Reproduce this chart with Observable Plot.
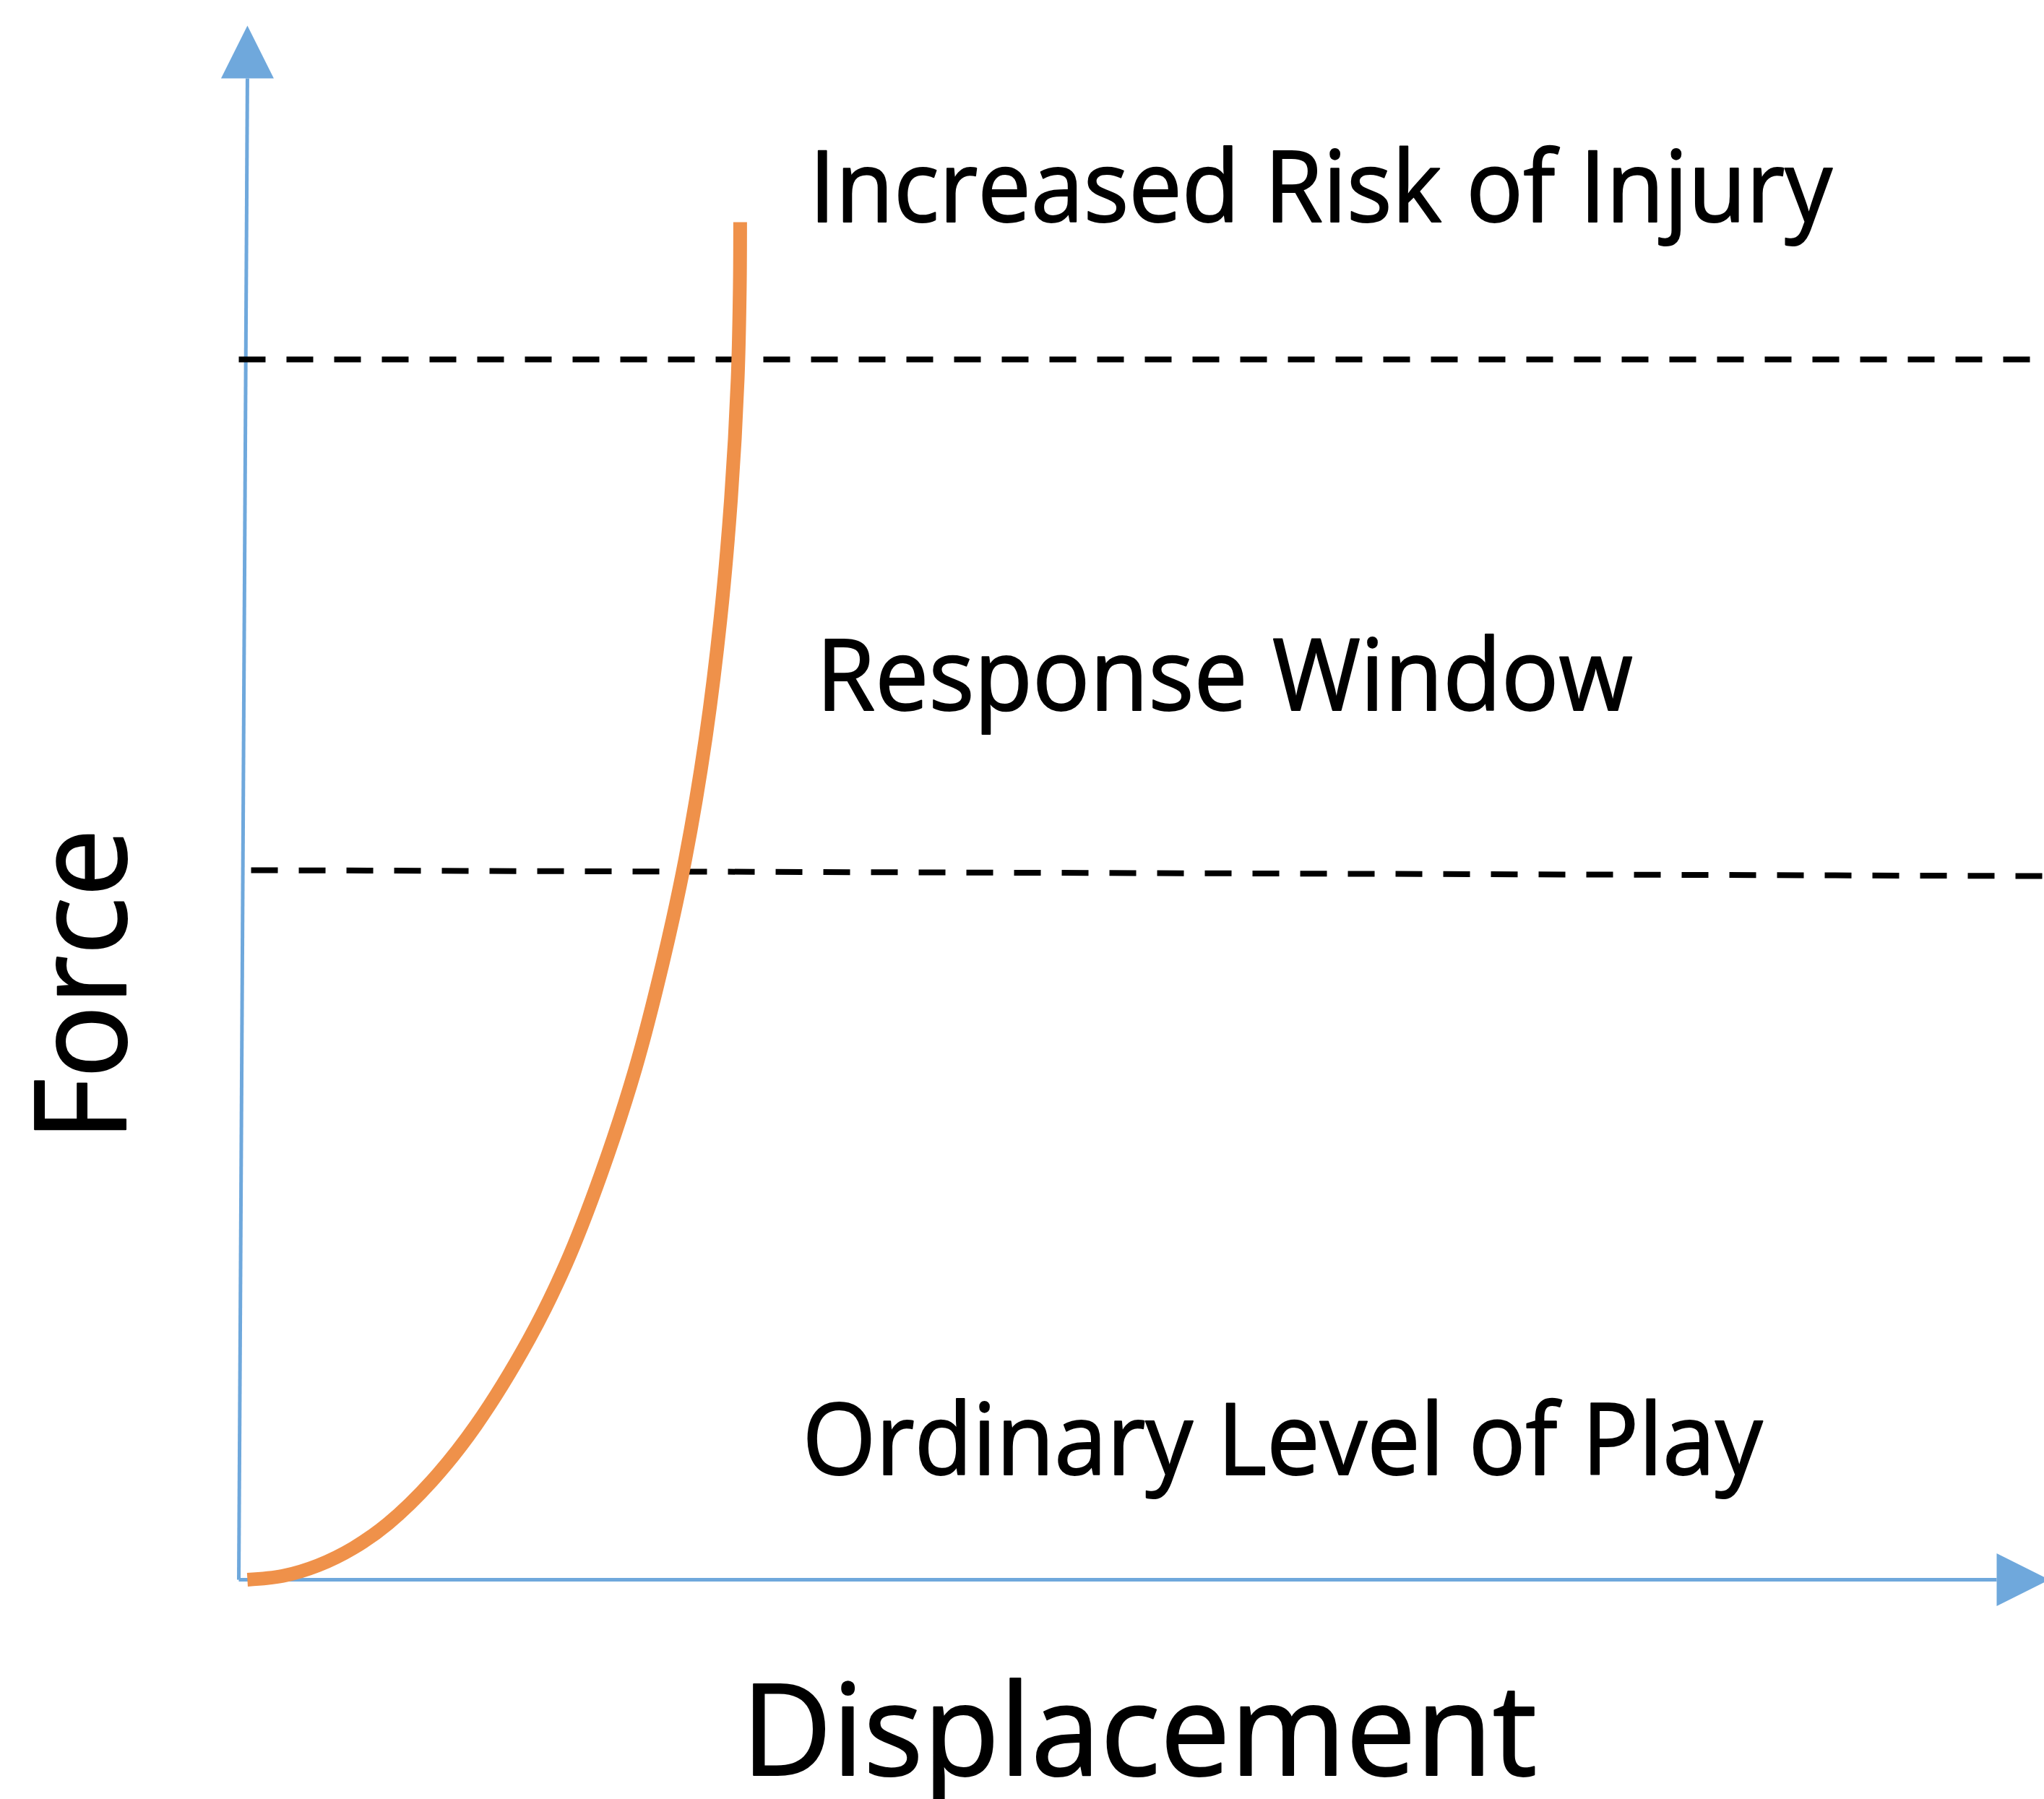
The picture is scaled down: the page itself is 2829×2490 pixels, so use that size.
<!DOCTYPE html>
<html>
<head>
<meta charset="utf-8">
<script src="https://cdn.jsdelivr.net/npm/d3@7"></script>
<script src="https://cdn.jsdelivr.net/npm/@observablehq/plot@0.6"></script>
<style>
  html, body { margin: 0; padding: 0; background: #fff; }
  #chart svg { display: block; }
</style>
</head>
<body>
<div id="chart"></div>
<script>
// ---- data (chart units: displacement 0..100, force 0..100) ----
const curveDisplacement = [0.49, 2.5, 4.5, 6.5, 8.5, 11, 13.5, 16.5, 18.6, 20.6, 22.55, 24.1, 25.4, 26.55, 27.4, 28.0, 28.38, 28.5, 28.52];
const curveForce        = [0,    0.25, 0.95, 2.1, 3.75, 6.6, 10.3, 16, 21,   27,   34,    41,   48,   56,    64,   72,   80,    86,   90.42];

const upperThresholdX = [0, 102.7];
const upperThresholdY = [81.28, 81.28];
const lowerThresholdX = [0.7, 102.7];
const lowerThresholdY = [47.26, 46.87];

const xAxisX = [0, 100];
const xAxisY = [0, 0];
const yAxisX = [0, 0.49];
const yAxisY = [0, 100];

const zoneLabels = ["Increased Risk of Injury", "Response Window", "Ordinary Level of Play"];
const zoneLabelX = [32.45, 32.85, 32.06];
const zoneLabelY = [90.45, 57.9, 7.0];

const xTitle = "Displacement";
const xTitlePos = [28.6, -13.04];
const yTitle = "Force";
const yTitlePos = [-6.45, 29.2];

// ---- build tables ----
const curve = curveDisplacement.map((d, i) => ({x: d, y: curveForce[i]}));
const upper = upperThresholdX.map((d, i) => ({x: d, y: upperThresholdY[i]}));
const lower = lowerThresholdX.map((d, i) => ({x: d, y: lowerThresholdY[i]}));
const xAxis = xAxisX.map((d, i) => ({x: d, y: xAxisY[i]}));
const yAxis = yAxisX.map((d, i) => ({x: d, y: yAxisY[i]}));
const zones = zoneLabels.map((t, i) => ({text: t, x: zoneLabelX[i], y: zoneLabelY[i]}));
const arrows = [
  {x: yAxisX[1], y: yAxisY[1], rotate: 0},
  {x: xAxisX[1], y: xAxisY[1], rotate: 90}
];

// ---- styles ----
const BLUE = "#6FA8DC";
const ORANGE = "#EF914A";
const FONT = "'Open Sans', 'Noto Sans', sans-serif";

const arrowHead = {
  draw(context, size) {
    const s = Math.sqrt(size / Math.PI);
    context.moveTo(-s / 2, 0);
    context.lineTo(0, -s);
    context.lineTo(s / 2, 0);
    context.closePath();
  }
};

const textStyle = {fill: "#000", stroke: "#000", strokeWidth: 2, fontFamily: FONT, textAnchor: "start", lineAnchor: "bottom"};

const chart = Plot.plot({
  width: 2829,
  height: 2490,
  margin: 0,
  style: {background: "#fff", overflow: "visible"},
  x: {domain: [0, 100], range: [330, 2763], axis: null},
  y: {domain: [0, 100], range: [2186, 108], axis: null},
  marks: [
    Plot.line(xAxis, {x: "x", y: "y", stroke: BLUE, strokeWidth: 5, strokeLinecap: "butt", strokeLinejoin: "round"}),
    Plot.line(yAxis, {x: "x", y: "y", stroke: BLUE, strokeWidth: 5, strokeLinecap: "butt", strokeLinejoin: "round"}),
    Plot.dot(arrows, {x: "x", y: "y", rotate: "rotate", symbol: arrowHead, r: 73, fill: BLUE, stroke: "none"}),
    Plot.line(upper, {x: "x", y: "y", stroke: "#000", strokeWidth: 8, strokeDasharray: "37,29", strokeLinecap: "butt"}),
    Plot.line(lower, {x: "x", y: "y", stroke: "#000", strokeWidth: 8, strokeDasharray: "37,29", strokeLinecap: "butt"}),
    Plot.line(curve, {x: "x", y: "y", curve: "catmull-rom", stroke: ORANGE, strokeWidth: 19, strokeLinecap: "butt"}),
    Plot.text(zones, {x: "x", y: "y", text: "text", fontSize: 137, ...textStyle}),
    Plot.text([xTitle], {x: () => xTitlePos[0], y: () => xTitlePos[1], text: d => d, fontSize: 176, ...textStyle}),
    Plot.text([yTitle], {x: () => yTitlePos[0], y: () => yTitlePos[1], text: d => d, rotate: -90, fontSize: 176, ...textStyle})
  ]
});

// fit text widths to the reference
const widths = {
  "Increased Risk of Injury": 1416,
  "Response Window": 1130,
  "Ordinary Level of Play": 1329,
  "Displacement": 1101,
  "Force": 433
};
d3.select(chart).selectAll("text").each(function() {
  const t = this.textContent;
  if (widths[t]) {
    this.setAttribute("textLength", widths[t]);
    this.setAttribute("lengthAdjust", "spacingAndGlyphs");
  }
});

document.getElementById("chart").appendChild(chart);
</script>
</body>
</html>
